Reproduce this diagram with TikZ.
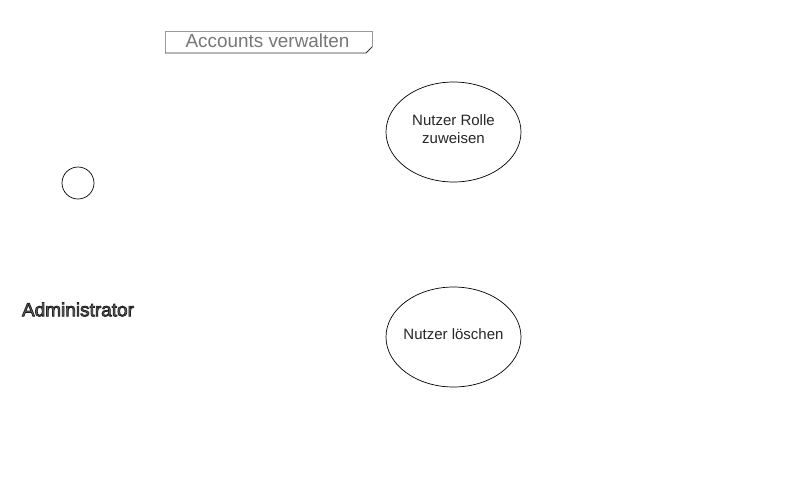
\documentclass[tikz,border=0pt]{standalone}
\usepackage{fontspec}
\setmainfont{Liberation Sans}
\usetikzlibrary{shapes.geometric}
\definecolor{framegray}{HTML}{999999}
\definecolor{labelgray}{HTML}{777777}
\definecolor{actorfill}{HTML}{666666}
\tikzset{
  usecase/.style={draw=black, line width=0.7pt, ellipse, minimum width=135pt, minimum height=100pt, inner sep=0pt, align=center},
  uctext/.style={font=\fontsize{15pt}{18pt}\selectfont, text=black!85, inner sep=0pt, align=center},
  actorhead/.style={draw=black, line width=0.7pt, circle, minimum size=32pt, inner sep=0pt},
  actorlabel/.style={font=\fontsize{19pt}{20pt}\selectfont, text=actorfill, inner sep=0pt},
  framelabel/.style={font=\fontsize{18.9pt}{20pt}\selectfont, text=labelgray, inner sep=0pt}
}
\begin{document}
\begin{tikzpicture}[x=1pt,y=-1pt]
\useasboundingbox (0,0) rectangle (800,490);
\fill[white] (0,0) rectangle (800,490);
% frame tag
\coordinate (tl) at (165,31);
\coordinate (tr) at (372,31);
\coordinate (cr) at (372,47);
\coordinate (cb) at (366,53);
\coordinate (bl) at (165,53);
\draw[framegray, line width=0.7pt] (bl) -- (tl) -- (tr) -- (cr);
\draw[black!80, line width=0.9pt] (cr) -- (cb) -- (bl);
\node[framelabel] (title) at (267.5,40.5) {Accounts verwalten};
% actor
\node[actorhead] (head) at (78,183) {};
\node[actorlabel] (actor) at (78,309.5) {\special{pdf:literal direct 2 Tr 0.75 w 0.12 0.12 0.12 RG}Administrator\special{pdf:literal direct 0 Tr}};
% use cases
\node[usecase] (uc1) at (453.5,132) {};
\node[uctext] (uc1t) at (453.5,129) {Nutzer Rolle\\zuweisen};
\node[usecase] (uc2) at (453.5,337) {};
\node[uctext] (uc2t) at (453.5,334) {Nutzer löschen};
\end{tikzpicture}
\end{document}
